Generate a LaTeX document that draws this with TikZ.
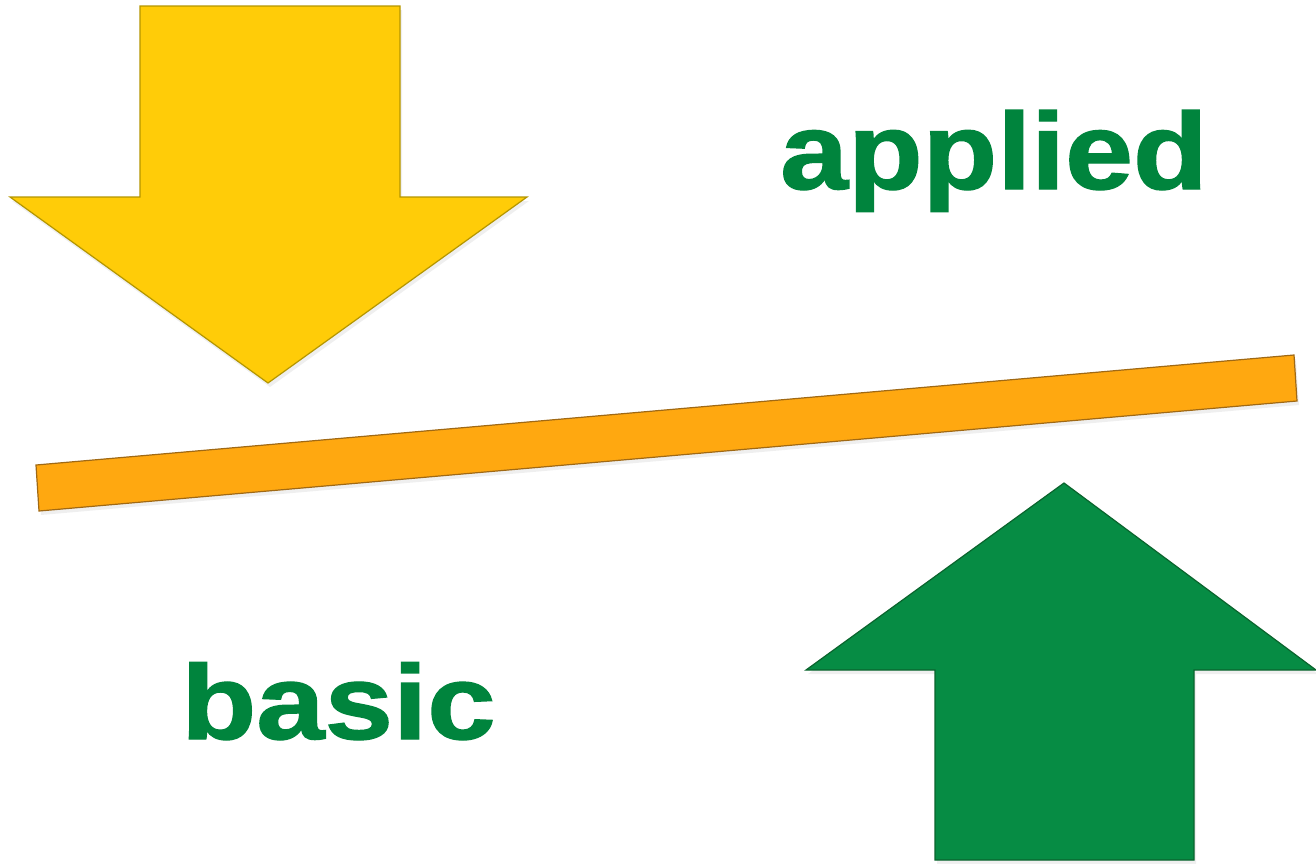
\documentclass[tikz,border=0pt]{standalone}
\usepackage{fontspec}
\setmainfont{Liberation Sans}
\newfontfamily\heavyfont{Liberation Sans Bold}[FakeBold=1.2]
\usetikzlibrary{shadows}
\begin{document}
\begin{tikzpicture}[x=1pt,y=-1pt,
  softshadow/.style={drop shadow={opacity=0.12,shadow xshift=2pt,shadow yshift=-4pt}},
  yellowarrow/.style={fill=arrowyellow,draw=yellowedge,line width=1.2pt,line join=miter,softshadow},
  greenarrow/.style={fill=arrowgreen,draw=greenedge,line width=1.2pt,line join=miter,softshadow},
  barstyle/.style={fill=barorange,draw=baredge,line width=1.2pt,softshadow},
  label/.style={text=textgreen,inner sep=0pt,font=\heavyfont}]
\definecolor{arrowyellow}{RGB}{255,204,8}
\definecolor{yellowedge}{RGB}{180,150,0}
\definecolor{arrowgreen}{RGB}{6,140,68}
\definecolor{greenedge}{RGB}{10,100,45}
\definecolor{barorange}{RGB}{255,168,16}
\definecolor{baredge}{RGB}{160,105,20}
\definecolor{textgreen}{RGB}{0,132,61}
\useasboundingbox (0,0) rectangle (1316,863);
\fill[white] (0,0) rectangle (1316,863);
% down arrow
\path[yellowarrow] (140,6) -- (400,6) -- (400,197) -- (527,197) -- (268,383) -- (10,197) -- (140,197) -- cycle;
% bar
\path[barstyle] (36,465) -- (1294,355) -- (1297,401) -- (39,511) -- cycle;
% up arrow
\path[greenarrow] (1064,483) -- (1316,670) -- (1194,670) -- (1194,860) -- (935,860) -- (935,670) -- (806,670) -- cycle;
% labels
\node[label,anchor=base west] (applied) at (780,189) {\scalebox{1.12}[1]{\fontsize{109}{120}\selectfont applied}};
\node[label,anchor=base west] (basic) at (181,739) {\scalebox{1.16}[1]{\fontsize{106}{120}\selectfont basic}};
\end{tikzpicture}
\end{document}
